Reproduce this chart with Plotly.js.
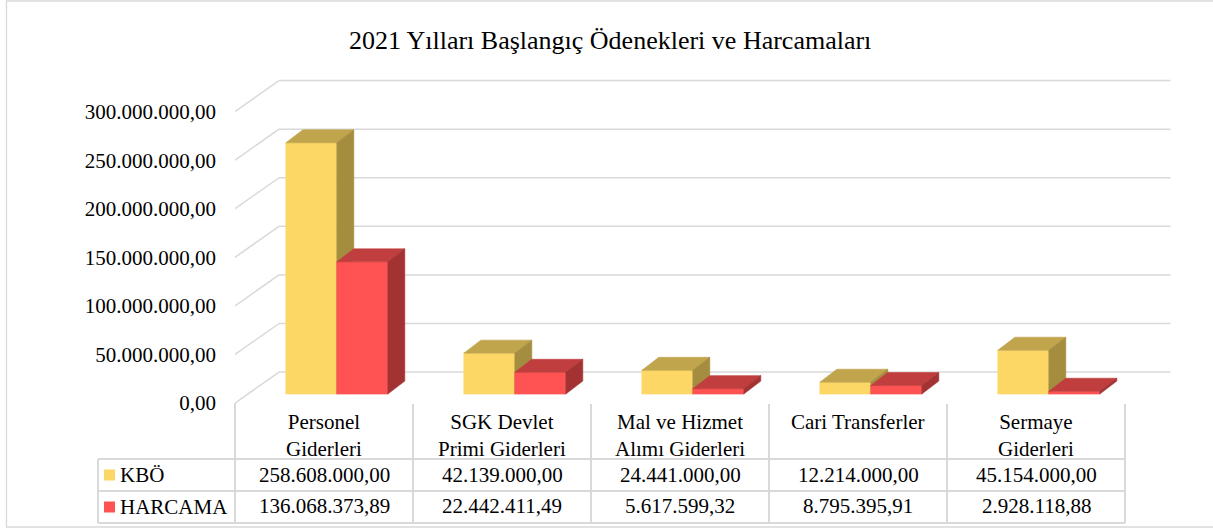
<!DOCTYPE html>
<html>
<head>
<meta charset="utf-8">
<script src="https://cdn.plot.ly/plotly-3.0.1.min.js"></script>
<style>html,body{margin:0;padding:0;background:#fff;}#chart{width:1213px;height:528px;}</style>
</head>
<body>
<div id="chart"></div>
<script>
// ---- data ----
const chartTitle = '2021 Yılları Başlangıç Ödenekleri ve Harcamaları';
const categories = ['Personel<br>Giderleri', 'SGK Devlet<br>Primi Giderleri', 'Mal ve Hizmet<br>Alımı Giderleri', 'Cari Transferler', 'Sermaye<br>Giderleri'];
const seriesNames = ['KBÖ', 'HARCAMA'];
const kboValues = [258608000.00, 42139000.00, 24441000.00, 12214000.00, 45154000.00];
const harcamaValues = [136068373.89, 22442411.49, 5617599.32, 8795395.91, 2928118.88];
const yTickValues = [0, 50000000, 100000000, 150000000, 200000000, 250000000, 300000000];

// ---- styles / geometry ----
const FONT = 'Liberation Serif';
const TXT = 21;
const GRID = '#d9d9d9';
const colors = {
  kbo: {front: '#FDD766', top: '#C1A54D', side: '#A58D40'},
  har: {front: '#FF5353', top: '#C13E3E', side: '#A33232'}
};
const ML = 235, MR = 42, MT = 63, MB = 122, W = 1213, H = 528;
const PW = W - ML - MR, PH = H - MT - MB;
const XR = [-0.5, -0.5 + PW / 178];
const YR = [-3e6, 350e6];
const pxX = PW / (XR[1] - XR[0]);           // px per category unit
const pxY = PH / (YR[1] - YR[0]);           // px per value unit
const wallDX = 44 / pxX, wallDY = 31 / pxY; // depth of floor / walls
const barDX = 17 / pxX, barDY = 13 / pxY;   // depth of bars
const barBase = 9 / pxY, barShift = 12.8 / pxX;
const barW = 51 / pxX;
const backRight = XR[1] - 0.5 / pxX;

function fmt(v) {
  const s = v.toFixed(2).split('.');
  return s[0].replace(/\B(?=(\d{3})+(?!\d))/g, '.') + ',' + s[1];
}
const px2x = px => (px - ML) / PW;
const py2y = py => (H - MB - py) / PH;

function faces(values, offset) {
  const f = {x: [], y: []}, t = {x: [], y: []}, s = {x: [], y: []};
  values.forEach((v, i) => {
    const x0 = i + barShift + offset, x1 = x0 + barW;
    const b = barBase, h = barBase + v;
    f.x.push(x0, x1, x1, x0, x0, null); f.y.push(b, b, h, h, b, null);
    t.x.push(x0, x1, x1 + barDX, x0 + barDX, x0, null); t.y.push(h, h, h + barDY, h + barDY, h, null);
    s.x.push(x1, x1 + barDX, x1 + barDX, x1, x1, null); s.y.push(b, b + barDY, h + barDY, h, b, null);
  });
  return [f, t, s];
}
function poly(p, color, name) {
  return {type: 'scatter', mode: 'lines', x: p.x, y: p.y, fill: 'toself', fillcolor: color,
    line: {color: color, width: 0.6}, hoverinfo: 'skip', name: name, showlegend: false};
}
const [kf, kt, ks] = faces(kboValues, -barW);
const [hf, ht, hs] = faces(harcamaValues, 0);
const traces = [
  poly(kf, colors.kbo.front, seriesNames[0]), poly(kt, colors.kbo.top, seriesNames[0]), poly(ks, colors.kbo.side, seriesNames[0]),
  poly(hf, colors.har.front, seriesNames[1]), poly(ht, colors.har.top, seriesNames[1]), poly(hs, colors.har.side, seriesNames[1])
];

const shapes = [];
const annotations = [];
// walls grid
yTickValues.forEach(v => {
  shapes.push({type: 'line', xref: 'x', yref: 'y', x0: XR[0], y0: v, x1: XR[0] + wallDX, y1: v + wallDY, line: {color: GRID, width: 1.5}, layer: 'below'});
  shapes.push({type: 'line', xref: 'x', yref: 'y', x0: XR[0] + wallDX, y0: v + wallDY, x1: backRight, y1: v + wallDY, line: {color: GRID, width: 1.5}, layer: 'below'});
});
// outer border
shapes.push({type: 'rect', xref: 'paper', yref: 'paper', x0: px2x(6.5), x1: px2x(1216), y0: py2y(527), y1: py2y(1), line: {color: GRID, width: 1.3}});
// data table
const TBL_TOP = 403, ROW1 = 459, ROW2 = 491, ROW3 = 523, LEFT = 98;
const colEdge = i => ML + i * 178;
const tline = (x0, y0, x1, y1) => shapes.push({type: 'line', xref: 'paper', yref: 'paper', x0: px2x(x0), y0: py2y(y0), x1: px2x(x1), y1: py2y(y1), line: {color: GRID, width: 2}});
tline(colEdge(0), TBL_TOP, colEdge(0), ROW3);
for (let i = 1; i <= categories.length; i++) tline(colEdge(i), TBL_TOP + 1, colEdge(i), ROW3);
[ROW1, ROW2, ROW3].forEach(r => tline(LEFT, r, colEdge(categories.length), r));
tline(LEFT, ROW1, LEFT, ROW3);

const txt = (x, y, text, xanchor, yanchor) => annotations.push({xref: 'paper', yref: 'paper', x: px2x(x), y: py2y(y), text: text,
  showarrow: false, xanchor: xanchor || 'center', yanchor: yanchor || 'middle', font: {family: FONT, size: TXT, color: '#000'}});
categories.forEach((c, i) => {
  const cx = colEdge(i) + 89;
  txt(cx, 408, c, 'center', 'top');
  txt(cx, 475, fmt(kboValues[i]));
  txt(cx, 506, fmt(harcamaValues[i]));
});
// legend keys
[[colors.kbo.front, 475, seriesNames[0]], [colors.har.front, 507, seriesNames[1]]].forEach(([col, cy, name]) => {
  shapes.push({type: 'rect', xref: 'paper', yref: 'paper', x0: px2x(104), x1: px2x(115), y0: py2y(cy + 5.5), y1: py2y(cy - 5.5), fillcolor: col, line: {width: 0}});
  txt(118, cy, name, 'left');
});

const layout = {
  width: W, height: H,
  margin: {l: ML, r: MR, t: MT, b: MB},
  paper_bgcolor: '#fff', plot_bgcolor: 'rgba(0,0,0,0)',
  font: {family: FONT},
  title: {text: chartTitle, font: {family: FONT, size: 26, color: '#000'}, x: 0.503, xanchor: 'center', y: 1 - 40 / H, yanchor: 'middle', yref: 'container'},
  xaxis: {range: XR, visible: false, fixedrange: true},
  yaxis: {range: YR, showgrid: false, zeroline: false, showline: false, ticks: '',
    tickvals: yTickValues, ticktext: yTickValues.map(fmt), ticklabelstandoff: 18,
    tickfont: {family: FONT, size: TXT, color: '#000'}, fixedrange: true},
  showlegend: false,
  shapes: shapes,
  annotations: annotations
};
Plotly.newPlot('chart', traces, layout, {displayModeBar: false, staticPlot: true});
</script>
</body>
</html>
